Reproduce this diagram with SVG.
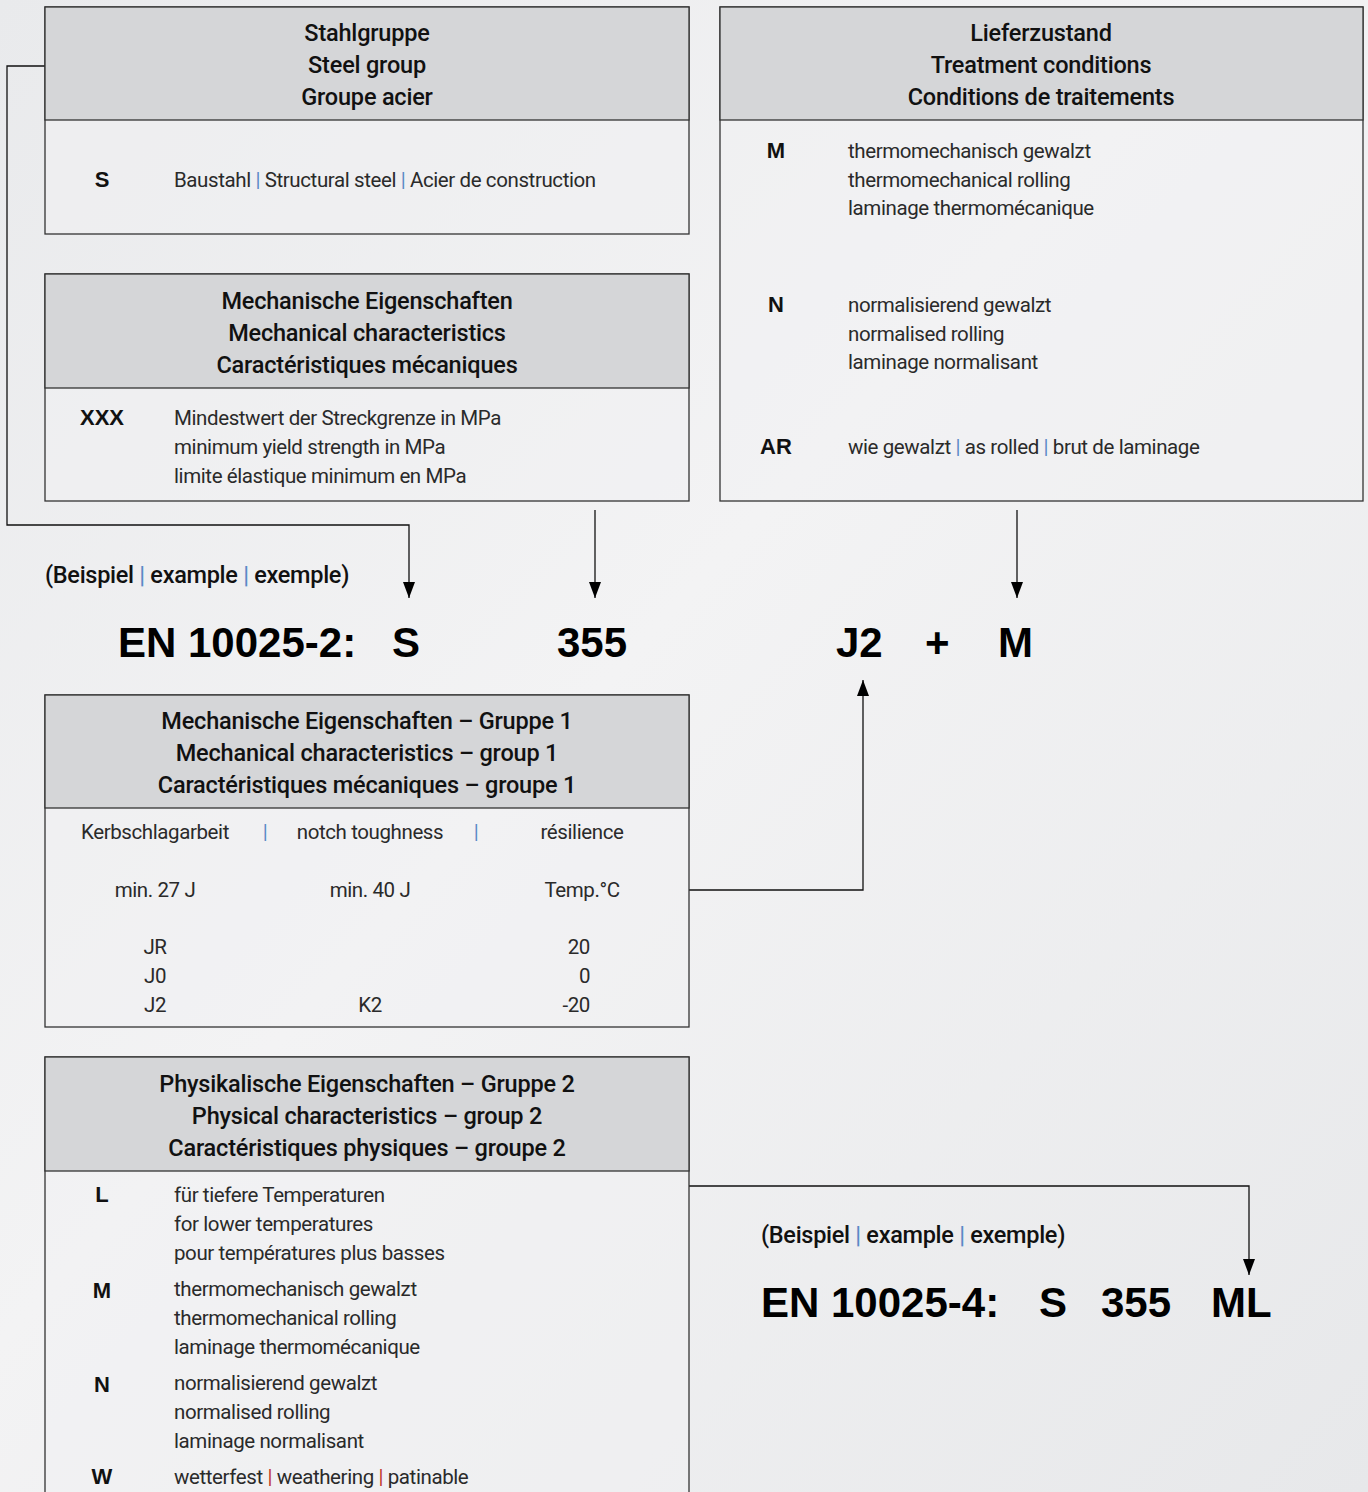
<svg xmlns="http://www.w3.org/2000/svg" width="1368" height="1492" viewBox="0 0 1368 1492">
<defs>
<linearGradient id="bg" x1="0" y1="0" x2="1" y2="1">
<stop offset="0" stop-color="#e9eaec"/>
<stop offset="0.45" stop-color="#f3f3f4"/>
<stop offset="1" stop-color="#e7e8ea"/>
</linearGradient>
<marker id="arr" viewBox="0 0 16 12" refX="16" refY="6" markerWidth="16" markerHeight="12" markerUnits="userSpaceOnUse" orient="auto">
<path d="M0,0 L16,6 L0,12 Z" fill="#000"/>
</marker>
<style>
.box{fill:#f1f1f2;fill-opacity:0.55;stroke:#333;stroke-width:1.3}
.hdr{fill:#d5d6d8;stroke:#333;stroke-width:1.3}
.ht{font-family:Roboto,"Liberation Sans",sans-serif;font-weight:500;font-size:23.5px;letter-spacing:-0.2px;fill:#111;text-anchor:middle}
.bt{font-family:Roboto,"Liberation Sans",sans-serif;font-weight:400;font-size:20.5px;letter-spacing:-0.4px;fill:#2a2a2a}
.code{font-family:"Liberation Sans",Arial,sans-serif;font-weight:700;font-size:22px;fill:#111;text-anchor:middle}
.ex{font-family:Roboto,"Liberation Sans",sans-serif;font-weight:500;font-size:23.5px;letter-spacing:-0.3px;fill:#111}
.big{font-family:"Liberation Sans",Arial,sans-serif;font-weight:700;font-size:42px;fill:#000}
.sep{fill:#5b8ac6}
.sepr{fill:#c0392b}
.ln{fill:none;stroke:#111;stroke-width:1.3}
.c{text-anchor:middle}
.r{text-anchor:end}
</style>
</defs>
<rect x="0" y="0" width="1368" height="1492" fill="url(#bg)"/>

<g id="connectors">
<path class="ln" d="M45,66 H7 V525 H409 V598" marker-end="url(#arr)"/>
<path class="ln" d="M595,510 V598" marker-end="url(#arr)"/>
<path class="ln" d="M1017,510 V598" marker-end="url(#arr)"/>
<path class="ln" d="M689,890 H863 V680" marker-end="url(#arr)"/>
<path class="ln" d="M689,1186 H1249 V1275" marker-end="url(#arr)"/>
</g>

<g id="stahlgruppe">
<rect class="box" x="45" y="7" width="644" height="227"/>
<rect class="hdr" x="45" y="7" width="644" height="113"/>
<text class="ht" x="367" y="41">Stahlgruppe</text>
<text class="ht" x="367" y="73">Steel group</text>
<text class="ht" x="367" y="105">Groupe acier</text>
<text class="code" x="102" y="187">S</text>
<text class="bt" x="174" y="187">Baustahl <tspan class="sep">|</tspan> Structural steel <tspan class="sep">|</tspan> Acier de construction</text>
</g>

<g id="mechanische">
<rect class="box" x="45" y="274" width="644" height="227"/>
<rect class="hdr" x="45" y="274" width="644" height="114"/>
<text class="ht" x="367" y="309">Mechanische Eigenschaften</text>
<text class="ht" x="367" y="341">Mechanical characteristics</text>
<text class="ht" x="367" y="373">Caractéristiques mécaniques</text>
<text class="code" x="102" y="425">XXX</text>
<text class="bt" x="174" y="425">Mindestwert der Streckgrenze in MPa</text>
<text class="bt" x="174" y="454">minimum yield strength in MPa</text>
<text class="bt" x="174" y="483">limite élastique minimum en MPa</text>
</g>

<g id="lieferzustand">
<rect class="box" x="720" y="7" width="643" height="494"/>
<rect class="hdr" x="720" y="7" width="643" height="113"/>
<text class="ht" x="1041" y="41">Lieferzustand</text>
<text class="ht" x="1041" y="73">Treatment conditions</text>
<text class="ht" x="1041" y="105">Conditions de traitements</text>
<text class="code" x="776" y="158">M</text>
<text class="bt" x="848" y="158">thermomechanisch gewalzt</text>
<text class="bt" x="848" y="187">thermomechanical rolling</text>
<text class="bt" x="848" y="215">laminage thermomécanique</text>
<text class="code" x="776" y="312">N</text>
<text class="bt" x="848" y="312">normalisierend gewalzt</text>
<text class="bt" x="848" y="341">normalised rolling</text>
<text class="bt" x="848" y="369">laminage normalisant</text>
<text class="code" x="776" y="454">AR</text>
<text class="bt" x="848" y="454">wie gewalzt <tspan class="sep">|</tspan> as rolled <tspan class="sep">|</tspan> brut de laminage</text>
</g>

<g id="example1">
<text class="ex" x="45" y="583">(Beispiel <tspan class="sep">|</tspan> example <tspan class="sep">|</tspan> exemple)</text>
<text class="big" x="118" y="657">EN 10025-2:</text>
<text class="big" x="392" y="657">S</text>
<text class="big" x="557" y="657">355</text>
<text class="big" x="836" y="657">J2</text>
<text class="big" x="925" y="657">+</text>
<text class="big" x="998" y="657">M</text>
</g>

<g id="gruppe1">
<rect class="box" x="45" y="695" width="644" height="332"/>
<rect class="hdr" x="45" y="695" width="644" height="113"/>
<text class="ht" x="367" y="729">Mechanische Eigenschaften – Gruppe 1</text>
<text class="ht" x="367" y="761">Mechanical characteristics – group 1</text>
<text class="ht" x="367" y="793">Caractéristiques mécaniques – groupe 1</text>
<text class="bt c" x="155" y="839">Kerbschlagarbeit</text>
<text class="bt c sep" x="265" y="839">|</text>
<text class="bt c" x="370" y="839">notch toughness</text>
<text class="bt c sep" x="476" y="839">|</text>
<text class="bt c" x="582" y="839">résilience</text>
<text class="bt c" x="155" y="897">min. 27 J</text>
<text class="bt c" x="370" y="897">min. 40 J</text>
<text class="bt c" x="582" y="897">Temp.°C</text>
<text class="bt c" x="155" y="954">JR</text>
<text class="bt c" x="155" y="983">J0</text>
<text class="bt c" x="155" y="1012">J2</text>
<text class="bt c" x="370" y="1012">K2</text>
<text class="bt r" x="590" y="954">20</text>
<text class="bt r" x="590" y="983">0</text>
<text class="bt r" x="590" y="1012">-20</text>
</g>

<g id="gruppe2">
<rect class="box" x="45" y="1057" width="644" height="450"/>
<rect class="hdr" x="45" y="1057" width="644" height="114"/>
<text class="ht" x="367" y="1092">Physikalische Eigenschaften – Gruppe 2</text>
<text class="ht" x="367" y="1124">Physical characteristics – group 2</text>
<text class="ht" x="367" y="1156">Caractéristiques physiques – groupe 2</text>
<text class="code" x="102" y="1202">L</text>
<text class="bt" x="174" y="1202">für tiefere Temperaturen</text>
<text class="bt" x="174" y="1231">for lower temperatures</text>
<text class="bt" x="174" y="1260">pour températures plus basses</text>
<text class="code" x="102" y="1298">M</text>
<text class="bt" x="174" y="1296">thermomechanisch gewalzt</text>
<text class="bt" x="174" y="1325">thermomechanical rolling</text>
<text class="bt" x="174" y="1354">laminage thermomécanique</text>
<text class="code" x="102" y="1392">N</text>
<text class="bt" x="174" y="1390">normalisierend gewalzt</text>
<text class="bt" x="174" y="1419">normalised rolling</text>
<text class="bt" x="174" y="1448">laminage normalisant</text>
<text class="code" x="102" y="1484">W</text>
<text class="bt" x="174" y="1484">wetterfest <tspan class="sepr">|</tspan> weathering <tspan class="sepr">|</tspan> patinable</text>
</g>

<g id="example2">
<text class="ex" x="761" y="1243">(Beispiel <tspan class="sep">|</tspan> example <tspan class="sep">|</tspan> exemple)</text>
<text class="big" x="761" y="1317">EN 10025-4:</text>
<text class="big" x="1039" y="1317">S</text>
<text class="big" x="1101" y="1317">355</text>
<text class="big" x="1211" y="1317">ML</text>
</g>
</svg>
